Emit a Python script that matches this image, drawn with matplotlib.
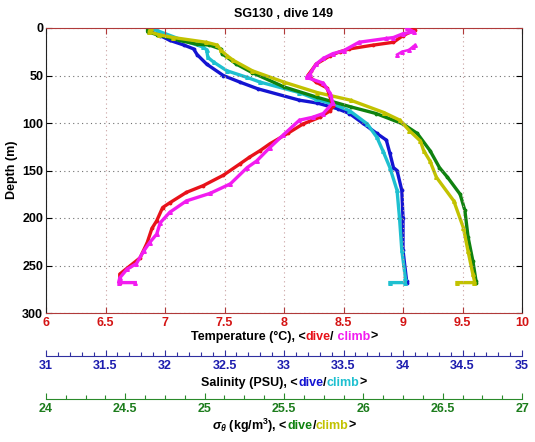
import matplotlib
matplotlib.use("Agg")
import matplotlib.pyplot as plt
from matplotlib.ticker import MultipleLocator

plt.rcParams['font.family'] = ['Liberation Sans', 'DejaVu Sans']
plt.rcParams['font.weight'] = 'bold'
plt.rcParams['mathtext.fontset'] = 'custom'
plt.rcParams['mathtext.rm'] = 'Liberation Sans:bold'
plt.rcParams['mathtext.it'] = 'Liberation Sans:italic:bold'

# ---------------- data ----------------
title = "SG130 , dive 149"

# Temperature, dive (red)
T_dive_depth = [0, 2, 8, 15, 18, 22, 25, 29, 38, 45, 50, 57, 63, 73, 82, 87, 94, 101, 111, 122,
                129, 136, 143, 155, 166, 173, 184, 189, 203, 211, 226, 242, 250, 259, 268]
T_dive = [9.05, 9.10, 9.00, 8.92, 8.75, 8.55, 8.47, 8.39, 8.27, 8.23, 8.20, 8.27, 8.36, 8.39, 8.41,
          8.39, 8.30, 8.16, 8.03, 7.88, 7.80, 7.71, 7.63, 7.49, 7.32, 7.18, 7.04, 6.98, 6.93, 6.89,
          6.85, 6.79, 6.71, 6.62, 6.62]

# Temperature, climb (magenta)
T_climb_depth = [0, 4, 6, 10, 11, 15, 24, 27, 32, 38, 48, 52, 58, 69, 79, 90, 94, 97, 113, 126,
                 140, 147, 164, 174, 182, 194, 205, 217, 226, 235, 248, 254, 263, 268, 268]
T_climb = [9.03, 9.09, 9.00, 8.92, 8.86, 8.63, 8.50, 8.41, 8.33, 8.27, 8.22, 8.19, 8.33, 8.39, 8.41,
           8.33, 8.24, 8.13, 7.99, 7.88, 7.77, 7.69, 7.55, 7.38, 7.18, 7.04, 6.96, 6.93, 6.87, 6.82,
           6.76, 6.68, 6.62, 6.61, 6.75]
T_climb_extra_depth = [18, 20, 23, 25, 28]
T_climb_extra = [9.10, 9.08, 9.05, 8.99, 8.95]

# Salinity, dive (blue)
S_dive_depth = [0, 4, 8, 13, 18, 22, 28, 38, 50, 57, 64, 76, 79, 85, 90, 100, 111, 118, 132,
                147, 150, 171, 200, 234, 266, 268]
S_dive = [31.86, 31.88, 31.96, 32.04, 32.16, 32.24, 32.27, 32.35, 32.49, 32.63, 32.78, 33.13, 33.28,
          33.45, 33.55, 33.66, 33.78, 33.86, 33.89, 33.92, 33.95, 33.99, 34.00, 34.00, 34.03, 34.03]

# Salinity, climb (cyan)
S_climb_depth = [0, 3, 13, 20, 23, 31, 36, 45, 52, 57, 68, 75, 80, 87, 101, 115, 129, 147, 171,
                 199, 234, 263, 268, 268]
S_climb = [31.87, 31.94, 32.15, 32.32, 32.35, 32.36, 32.41, 32.52, 32.69, 32.80, 33.13, 33.27,
           33.41, 33.55, 33.70, 33.78, 33.83, 33.89, 33.95, 33.97, 33.99, 34.02, 34.02, 33.89]

# Sigma-theta, dive (green)
G_dive_depth = [0, 4, 7, 13, 17, 18, 22, 27, 38, 47, 62, 73, 83, 90, 101, 111, 129, 147, 157, 175,
                192, 220, 245, 266, 268]
G_dive = [24.64, 24.64, 24.70, 24.84, 24.95, 25.03, 25.10, 25.11, 25.20, 25.30, 25.50, 25.71,
          25.92, 26.08, 26.25, 26.34, 26.42, 26.48, 26.53, 26.61, 26.64, 26.66, 26.69, 26.71, 26.71]

# Sigma-theta, climb (olive)
G_climb_depth = [0, 4, 7, 10, 15, 18, 23, 29, 34, 45, 57, 68, 76, 89, 97, 108, 119, 129, 140, 157,
                 182, 210, 235, 259, 266, 268, 268]
G_climb = [24.66, 24.65, 24.71, 24.80, 25.01, 25.08, 25.10, 25.14, 25.18, 25.30, 25.50, 25.71,
           25.92, 26.13, 26.23, 26.29, 26.36, 26.38, 26.42, 26.46, 26.57, 26.63, 26.66, 26.69,
           26.70, 26.70, 26.59]

T_ticks = [6, 6.5, 7, 7.5, 8, 8.5, 9, 9.5, 10]
S_ticks = [31, 31.5, 32, 32.5, 33, 33.5, 34, 34.5, 35]
G_ticks = [24, 24.5, 25, 25.5, 26, 26.5, 27]
D_ticks = [0, 50, 100, 150, 200, 250, 300]

# ---------------- styles ----------------
W, H = 535, 442
c_red, c_mag = '#e8121a', '#f21cf0'
c_blue, c_cyan = '#1414d2', '#1ec0d0'
c_green, c_olive = '#0f820f', '#c2c200'
lab_red, lab_blue, lab_green = '#d41414', '#1c1cae', '#1c7c1c'
FS = 9

fig = plt.figure(figsize=(W / 100, H / 100), dpi=100)

L, R, TOP, BOT = 46, 522, 28, 313
ax = fig.add_axes([L / W, 1 - BOT / H, (R - L) / W, (BOT - TOP) / H])

axS = ax.twiny()
axG = ax.twiny()
for a in (axS, axG):
    a.set_ylim(300, 0)
    a.axis('off')
axS.set_xlim(31, 35)
axG.set_xlim(24, 27)
ax.set_xlim(6, 10)
ax.set_ylim(300, 0)

lw = 2.4
ax.plot(T_dive, T_dive_depth, '-', color=c_red, lw=lw, marker='.', ms=3.5, zorder=3)
ax.plot(T_climb, T_climb_depth, '-', color=c_mag, lw=lw, marker='^', ms=2.6, zorder=3)
ax.plot(T_climb_extra, T_climb_extra_depth, '-', color=c_mag, lw=1.8, marker='^', ms=2.6, zorder=3)
axS.plot(S_dive, S_dive_depth, '-', color=c_blue, lw=lw, marker='.', ms=3.5)
axS.plot(S_climb, S_climb_depth, '-', color=c_cyan, lw=lw, marker='^', ms=2.6)
axG.plot(G_dive, G_dive_depth, '-', color=c_green, lw=lw, marker='.', ms=3.5)
axG.plot(G_climb, G_climb_depth, '-', color=c_olive, lw=lw, marker='^', ms=2.6)

ax.set_xticks(T_ticks)
ax.set_xticklabels([f"{t:g}" for t in T_ticks])
ax.set_yticks(D_ticks)
ax.tick_params(axis='x', direction='in', top=True, bottom=True, colors='#b03a3a',
               labelcolor=lab_red, labelsize=FS, length=4, pad=3)
ax.tick_params(axis='y', direction='in', left=True, right=True, colors='black',
               labelsize=FS, length=4, pad=2)
for t in ax.get_xticklabels() + ax.get_yticklabels():
    t.set_fontweight('bold')
ax.spines['top'].set_color('#b03a3a')
ax.spines['bottom'].set_color('#b03a3a')
ax.spines['left'].set_color('#222222')
ax.spines['right'].set_color('#222222')
for s in ax.spines.values():
    s.set_linewidth(0.8)
ax.grid(True, axis='x', color='#c8a0a0', linestyle=(0, (1, 3)), lw=0.8)
ax.grid(True, axis='y', color='#707070', linestyle=(0, (1, 3)), lw=0.8)
ax.set_axisbelow(True)
ax.set_zorder(2)
ax.patch.set_visible(False)

fig.text((L + R) / 2 / W, 1 - 14 / H, title, fontsize=FS, fontweight='bold',
         ha='center', va='center')
fig.text(12 / W, 1 - 170 / H, "Depth (m)", fontsize=FS, fontweight='bold',
         ha='center', va='center', rotation=90)


def scale_axis(y_line, lim, ticks, minor, color, labcolor):
    a = fig.add_axes([L / W, 1 - y_line / H, (R - L) / W, 0.001])
    a.set_xlim(*lim)
    a.set_ylim(0, 1)
    for k in ('top', 'left', 'right'):
        a.spines[k].set_visible(False)
    a.spines['bottom'].set_color(color)
    a.spines['bottom'].set_linewidth(0.8)
    a.patch.set_visible(False)
    a.set_yticks([])
    a.set_xticks(ticks)
    a.set_xticklabels([f"{t:g}" for t in ticks])
    a.xaxis.set_minor_locator(MultipleLocator(minor))
    a.tick_params(axis='x', which='major', direction='in', colors=color, labelcolor=labcolor,
                  labelsize=FS, length=4, width=0.8, pad=3)
    a.tick_params(axis='x', which='minor', direction='in', colors=color, length=3, width=0.8)
    for t in a.get_xticklabels():
        t.set_fontweight('bold')
    return a


scale_axis(356, (31, 35), S_ticks, 0.1, '#3030a0', lab_blue)
scale_axis(399, (24, 27), G_ticks, 0.125, '#2a8a2a', lab_green)

renderer = fig.canvas.get_renderer()


def multicolor(y_px, parts):
    xc = (L + R) / 2
    cum = ""
    widths = []
    for s, c in parts:
        cum += s
        t = fig.text(0, 0, cum, fontsize=FS, fontweight='bold')
        widths.append(t.get_window_extent(renderer).width)
        t.remove()
    total = widths[-1]
    x0 = xc - total / 2
    for (s, c), w in zip(parts, widths):
        fig.text((x0 + w) / W, 1 - y_px / H, s, color=c, fontsize=FS, fontweight='bold',
                 ha='right', va='center')


multicolor(337, [("Temperature (°C), <", 'black'), ("dive", c_red), ("/", 'black'),
                 (" climb", c_mag), (">", 'black')])
multicolor(383, [("Salinity (PSU), <", 'black'), ("dive", c_blue), ("/", 'black'),
                 ("climb", c_cyan), (">", 'black')])
multicolor(426, [(r"$\sigma_\theta$ (kg/m$^3$), <", 'black'), ("dive", c_green), ("/", 'black'),
                 ("climb", c_olive), (">", 'black')])

fig.savefig("out.png", dpi=100)
